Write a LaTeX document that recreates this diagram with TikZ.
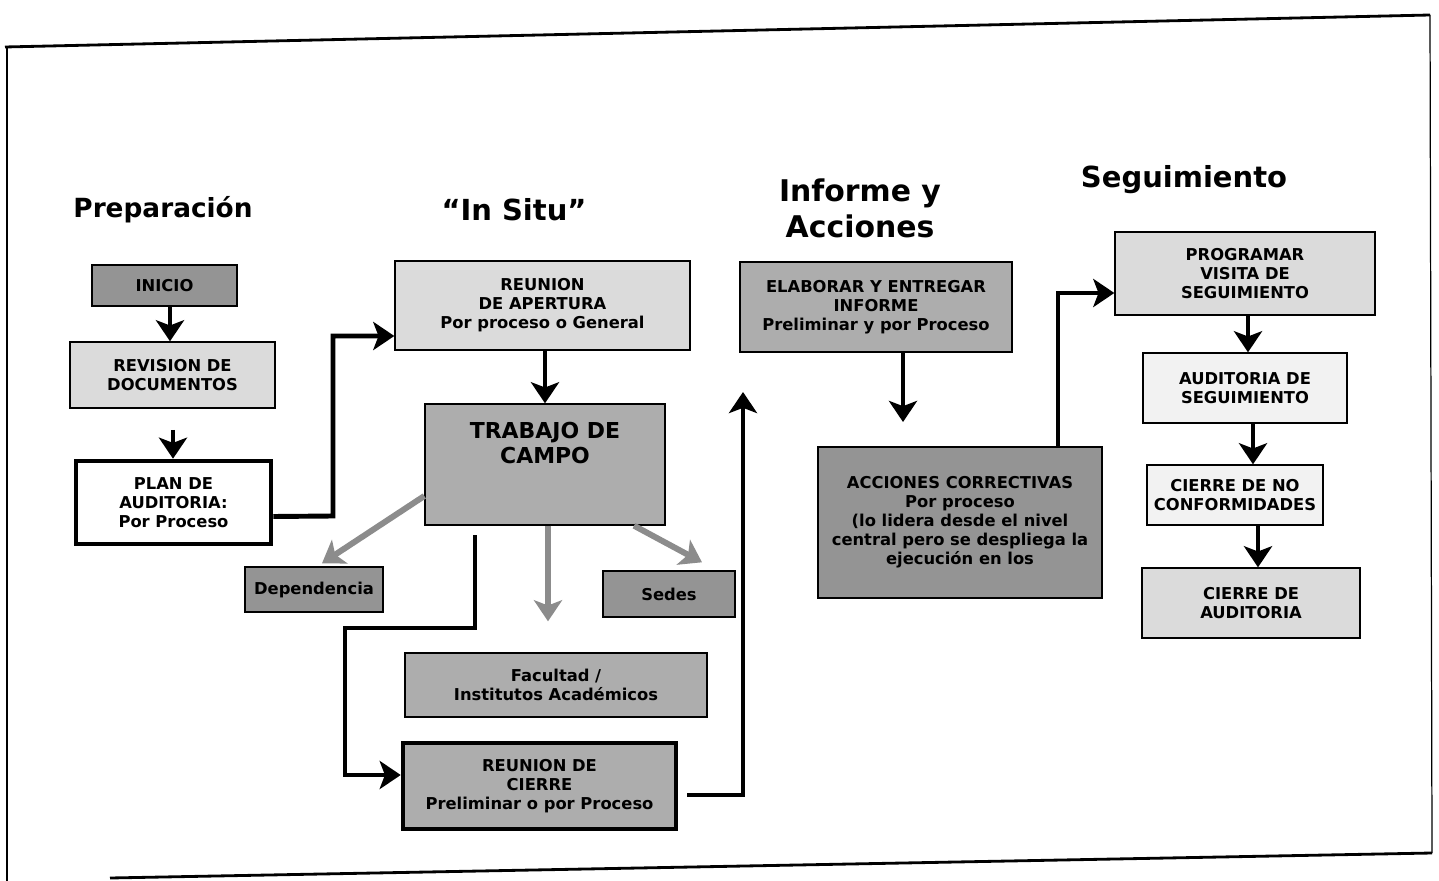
\documentclass[tikz,border=0pt]{standalone}
\usepackage{fontspec}
\setmainfont{DejaVu Sans}
\usetikzlibrary{arrows.meta,calc}
\tikzset{
	caja/.style={draw=black, line width=0.8pt, inner sep=0pt, align=center,
		font=\bfseries\fontsize{9.3}{10.8}\selectfont},
	cajagruesa/.style={caja, line width=2.6pt},
	titulo/.style={font=\bfseries\fontsize{16}{20.5}\selectfont, align=center},
	flecha/.style={line width=2.8pt, -{Stealth[length=12pt,width=16pt,inset=3pt]}},
	flechagris/.style={line width=3.4pt, color=black!45, -{Stealth[length=12pt,width=16pt,inset=3pt]}},
}
\definecolor{grisclaro}{gray}{0.86}
\definecolor{grismedio}{gray}{0.68}
\definecolor{grisoscuro}{gray}{0.58}
\definecolor{casiblanco}{gray}{0.95}
\begin{document}
\begin{tikzpicture}[x=0.02cm, y=-0.02cm]
		%%%%% START %%%%%
		\useasboundingbox (0,0) rectangle (1439,881);
		
		% marco
		\draw[line width=1.6pt] (5,47) -- (1430,15);
		\draw[line width=0.7pt] (7,47) -- (7,881);
		\draw[line width=0.7pt] (1430,15) -- (1432,853);
		\draw[line width=1.6pt] (1432,853) -- (110,878);
		
		% titulos
		\node[titulo, font=\bfseries\fontsize{15}{20}\selectfont] (tprep) at (163,210) {Preparación};
		\node[titulo, font=\bfseries\fontsize{16.5}{20}\selectfont] (tsitu) at (514,210) {“In Situ”};
		\node[titulo, font=\bfseries\fontsize{17}{20.5}\selectfont] (tinfo) at (860,208) {Informe y\\Acciones};
		\node[titulo, font=\bfseries\fontsize{16.5}{20}\selectfont] (tseg) at (1184,180) {Seguimiento};
		
		% preparacion
		\node[caja, fill=grisoscuro, minimum width=2.9cm, minimum height=0.82cm] (inicio) at (164.5,285.5) {INICIO};
		\node[caja, fill=grisclaro, minimum width=4.1cm, minimum height=1.32cm] (revision) at (172.5,375) {REVISION DE\\DOCUMENTOS};
		\node[cajagruesa, fill=white, minimum width=3.9cm, minimum height=1.66cm] (plan) at (173.5,502.5) {PLAN DE\\AUDITORIA:\\Por Proceso};
		
		% in situ
		\node[caja, fill=grisclaro, minimum width=5.9cm, minimum height=1.78cm] (apertura) at (542.5,305.5) {REUNION\\DE APERTURA\\Por proceso o General};
		\node[caja, fill=grismedio, minimum width=4.8cm, minimum height=2.42cm] (trabajo) at (545,464.5) {};
		\node[font=\bfseries\fontsize{12.5}{14.5}\selectfont, align=center] (ttrabajo) at (545,443) {TRABAJO DE\\CAMPO};
		\node[caja, fill=grisoscuro, minimum width=2.76cm, minimum height=0.9cm] (dependencia) at (314,589.5) {Dependencia};
		\node[caja, fill=grisoscuro, minimum width=2.64cm, minimum height=0.92cm] (sedes) at (669,594) {Sedes};
		\node[caja, fill=grismedio, minimum width=6.04cm, minimum height=1.28cm] (facultad) at (556,685) {Facultad /\\Institutos Académicos};
		\node[cajagruesa, fill=grismedio, minimum width=5.46cm, minimum height=1.72cm] (cierre) at (539.5,786) {REUNION DE\\CIERRE\\Preliminar o por Proceso};
		
		% informe y acciones
		\node[caja, fill=grismedio, minimum width=5.44cm, minimum height=1.8cm] (informe) at (876,307) {ELABORAR Y ENTREGAR\\INFORME\\Preliminar y por Proceso};
		\node[caja, fill=grisoscuro, minimum width=5.68cm, minimum height=3.02cm] (acciones) at (960,522.5) {ACCIONES CORRECTIVAS\\Por proceso\\(lo lidera desde el nivel\\central pero se despliega la\\ejecución en los};
		
		% seguimiento
		\node[caja, fill=grisclaro, minimum width=5.2cm, minimum height=1.66cm] (programar) at (1245,273.5) {PROGRAMAR\\VISITA DE\\SEGUIMIENTO};
		\node[caja, fill=casiblanco, minimum width=4.08cm, minimum height=1.4cm] (audseg) at (1245,388) {AUDITORIA DE\\SEGUIMIENTO};
		\node[caja, fill=casiblanco, minimum width=3.52cm, minimum height=1.2cm] (cierrenc) at (1235,495) {CIERRE DE NO\\CONFORMIDADES};
		\node[caja, fill=grisclaro, minimum width=4.36cm, minimum height=1.4cm] (cierreaud) at (1251,603) {CIERRE DE\\AUDITORIA};
		
		% puntos sueltos
		\coordinate (bajada) at (475,535);
		\coordinate (subida) at (743,392);
		\coordinate (punta) at (903,422);
		
		% flechas
		\draw[flecha] (inicio.south -| 170,0) -- (revision.north -| 170,0);
		\draw[flecha, shorten <=12pt] (revision.south -| 173,0) -- (plan.north -| 173,0);
		\draw[flecha] ($(plan.east)+(0,14)$) -- (333,516) -- (333,336) -- (apertura.west |- 0,336);
		\draw[flecha] (apertura.south -| 545,0) -- (trabajo.north -| 545,0);
		\draw[flechagris] (trabajo.west |- 0,496) -- ($(dependencia.north)+(8,-3)$);
		\draw[flechagris, shorten >=0.62cm] (trabajo.south -| 548,0) -- (facultad.north -| 548,0);
		\draw[flechagris] (trabajo.south -| 634,0) -- ($(sedes.north)+(33,-8)$);
		\draw[flecha] (bajada) -- (475,628) -- (345,628) -- (345,775) -- (cierre.west |- 0,775);
		\draw[flecha, shorten <=5pt] (cierre.east |- 0,795) -- (743,795) -- (subida);
		\draw[flecha] (informe.south -| 903,0) -- (punta);
		\draw[flecha] (acciones.north -| 1058,0) -- (1058,293) -- (programar.west |- 0,293);
		\draw[flecha] (programar.south -| 1248,0) -- (audseg.north -| 1248,0);
		\draw[flecha] (audseg.south -| 1253,0) -- (cierrenc.north -| 1253,0);
		\draw[flecha] (cierrenc.south -| 1258,0) -- (cierreaud.north -| 1258,0);
		
		%%%%% END %%%%%
	\end{tikzpicture}
\end{document}
